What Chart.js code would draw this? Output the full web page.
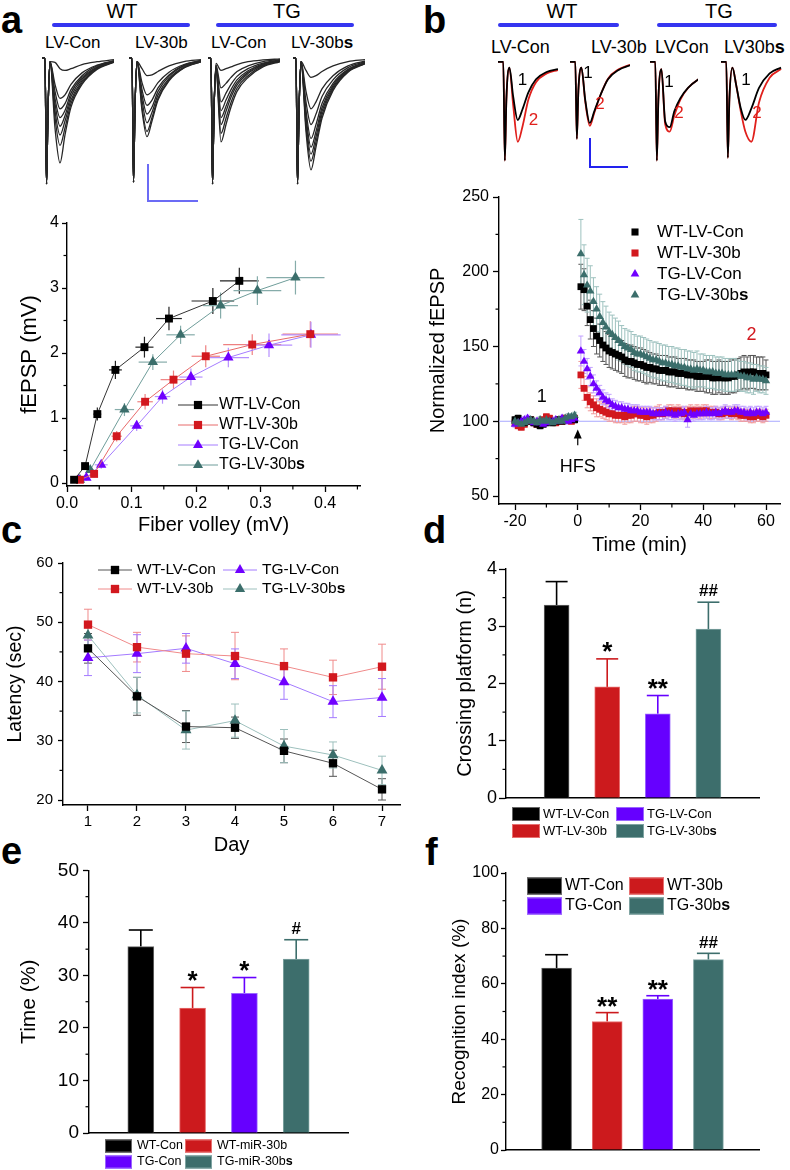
<!DOCTYPE html>
<html>
<head>
<meta charset="utf-8">
<script src="https://cdn.jsdelivr.net/npm/chart.js@4.4.1/dist/chart.umd.min.js"></script>
<style>
  html, body { margin: 0; padding: 0; background: #fff; }
  #fig { position: relative; width: 790px; height: 1170px; overflow: hidden;
         font-family: 'Liberation Sans', Arial, sans-serif; color: #000; }
  #fig canvas { position: absolute; }
  .t { position: absolute; white-space: nowrap; line-height: 1; }
  .lbl { font-weight: bold; font-size: 38px; }
  .hd { font-size: 20px; width: 100px; text-align: center; }
  .sa { font-size: 17px; }
  .sbt { font-size: 18px; }
  .num { font-size: 17px; width: 20px; text-align: center; }
  .blue { position: absolute; height: 4px; background: #3535f0; border-radius: 2px; }
  .sbar { position: absolute; }
</style>
</head>
<body>
<div id="fig">
  <!-- panel letters -->
  <div class="t lbl" style="left:1px;top:1px">a</div>
  <div class="t lbl" style="left:423px;top:1px">b</div>
  <div class="t lbl" style="left:1px;top:511px">c</div>
  <div class="t lbl" style="left:423px;top:511px">d</div>
  <div class="t lbl" style="left:1px;top:832px">e</div>
  <div class="t lbl" style="left:425px;top:833px">f</div>

  <!-- panel a headers -->
  <div class="t hd" style="left:72px;top:1px">WT</div>
  <div class="t hd" style="left:237px;top:1px">TG</div>
  <div class="blue" style="left:52px;top:23px;width:138px"></div>
  <div class="blue" style="left:216px;top:23px;width:138px"></div>
  <div class="t sa" style="left:45px;top:34px">LV-Con</div>
  <div class="t sa" style="left:135px;top:34px">LV-30b</div>
  <div class="t sa" style="left:211px;top:34px">LV-Con</div>
  <div class="t sa" style="left:291px;top:34px">LV-30b<b>s</b></div>
  <div class="sbar" style="left:147px;top:164px;width:1.5px;height:37px;background:#6b6bf5"></div>
  <div class="sbar" style="left:147px;top:200px;width:51px;height:1.5px;background:#6b6bf5"></div>

  <!-- panel b headers -->
  <div class="t hd" style="left:512px;top:1px">WT</div>
  <div class="t hd" style="left:669px;top:1px">TG</div>
  <div class="blue" style="left:498px;top:23px;width:121px"></div>
  <div class="blue" style="left:657px;top:23px;width:120px"></div>
  <div class="t sbt" style="left:491px;top:38px">LV-Con</div>
  <div class="t sbt" style="left:591px;top:38px">LV-30b</div>
  <div class="t sbt" style="left:655px;top:38px">LVCon</div>
  <div class="t sbt" style="left:724px;top:38px">LV30b<b>s</b></div>
  <div class="sbar" style="left:589px;top:138px;width:2px;height:30px;background:#2222ee"></div>
  <div class="sbar" style="left:589px;top:166px;width:39px;height:2px;background:#2222ee"></div>
</div>

<script>
// ================= DATA =================
const groupsLV  = ['WT-LV-Con', 'WT-LV-30b', 'TG-LV-Con', 'TG-LV-30bs'];
const groupsMiR = ['WT-Con', 'WT-miR-30b', 'TG-Con', 'TG-miR-30bs'];
const groupsNOR = ['WT-Con', 'WT-30b', 'TG-Con', 'TG-30bs'];

// panel a: fEPSP vs fiber volley (mV)
const fvWtCon    = [0.011, 0.028, 0.047, 0.075, 0.120, 0.158, 0.226, 0.267];
const epWtCon    = [0.05, 0.26, 1.06, 1.74, 2.09, 2.53, 2.80, 3.11];
const fvErrWtCon = [0.003, 0.004, 0.006, 0.010, 0.014, 0.020, 0.033, 0.030];
const epErrWtCon = [0.03, 0.05, 0.10, 0.14, 0.16, 0.18, 0.20, 0.20];

const fvWt30b    = [0.020, 0.042, 0.077, 0.121, 0.165, 0.215, 0.287, 0.377];
const epWt30b    = [0.05, 0.14, 0.72, 1.25, 1.59, 1.95, 2.13, 2.29];
const fvErrWt30b = [0.004, 0.005, 0.008, 0.012, 0.020, 0.022, 0.045, 0.043];
const epErrWt30b = [0.03, 0.05, 0.08, 0.12, 0.14, 0.17, 0.16, 0.20];

const fvTgCon    = [0.018, 0.030, 0.053, 0.108, 0.148, 0.192, 0.250, 0.313, 0.378];
const epTgCon    = [0.05, 0.08, 0.28, 0.88, 1.33, 1.63, 1.93, 2.12, 2.28];
const fvErrTgCon = [0.003, 0.004, 0.010, 0.010, 0.012, 0.018, 0.032, 0.036, 0.046];
const epErrTgCon = [0.03, 0.04, 0.06, 0.08, 0.11, 0.13, 0.15, 0.18, 0.20];

const fvTg30bs    = [0.020, 0.036, 0.089, 0.133, 0.176, 0.238, 0.295, 0.354];
const epTg30bs    = [0.05, 0.20, 1.13, 1.86, 2.28, 2.73, 2.96, 3.16];
const fvErrTg30bs = [0.004, 0.006, 0.015, 0.022, 0.022, 0.027, 0.037, 0.045];
const epErrTg30bs = [0.03, 0.05, 0.10, 0.12, 0.14, 0.20, 0.22, 0.26];

// panel a sample traces (ms, mV)
const traceTimeA = [0, 0.3, 0.45, 0.6, 0.8, 1.3, 1.8, 2.3, 2.9, 4.0, 5.5, 7.2];
const tracesWtCon = [
  [0, 0, -3.6, -1.5, -0.1, -0.12, -0.30, -0.35, -0.30, -0.18, -0.10, -0.04],
  [0, 0, -3.6, -1.5, -0.1, -0.75, -1.15, -1.05, -0.75, -0.42, -0.20, -0.07],
  [0, 0, -3.6, -1.5, -0.1, -0.95, -1.45, -1.30, -0.90, -0.50, -0.22, -0.08],
  [0, 0, -3.6, -1.5, -0.1, -1.15, -1.70, -1.50, -1.00, -0.55, -0.25, -0.09],
  [0, 0, -3.6, -1.5, -0.1, -1.30, -1.95, -1.65, -1.10, -0.60, -0.27, -0.10],
  [0, 0, -3.6, -1.5, -0.1, -1.50, -2.20, -1.80, -1.20, -0.65, -0.28, -0.10],
  [0, 0, -3.6, -1.5, -0.1, -1.70, -2.50, -2.00, -1.30, -0.70, -0.30, -0.11],
  [0, 0, -3.6, -1.5, -0.1, -2.00, -3.00, -2.20, -1.40, -0.75, -0.32, -0.12]
];
const tracesWt30b = [
  [0, 0, -3.55, -1.4, -0.1, -0.30, -0.50, -0.48, -0.38, -0.22, -0.10, -0.04],
  [0, 0, -3.55, -1.4, -0.1, -0.70, -1.05, -0.95, -0.70, -0.40, -0.18, -0.06],
  [0, 0, -3.55, -1.4, -0.1, -0.90, -1.35, -1.20, -0.85, -0.48, -0.20, -0.07],
  [0, 0, -3.55, -1.4, -0.1, -1.05, -1.60, -1.40, -0.95, -0.52, -0.22, -0.08],
  [0, 0, -3.55, -1.4, -0.1, -1.20, -1.85, -1.55, -1.05, -0.58, -0.25, -0.09],
  [0, 0, -3.55, -1.4, -0.1, -1.40, -2.10, -1.70, -1.15, -0.62, -0.27, -0.10],
  [0, 0, -3.55, -1.4, -0.1, -1.50, -2.25, -1.80, -1.20, -0.65, -0.28, -0.10]
];
const tracesTgCon = [
  [0, 0, -3.6, -1.5, -0.15, -0.35, -0.30, -0.25, -0.18, -0.10, -0.05, -0.02],
  [0, 0, -3.6, -1.5, -0.20, -0.85, -0.72, -0.55, -0.38, -0.22, -0.10, -0.04],
  [0, 0, -3.6, -1.5, -0.20, -1.25, -1.00, -0.75, -0.52, -0.30, -0.14, -0.05],
  [0, 0, -3.6, -1.5, -0.25, -1.50, -1.20, -0.90, -0.62, -0.36, -0.16, -0.06],
  [0, 0, -3.6, -1.5, -0.25, -1.70, -1.38, -1.02, -0.70, -0.40, -0.18, -0.07],
  [0, 0, -3.6, -1.5, -0.30, -1.90, -1.52, -1.12, -0.77, -0.44, -0.20, -0.08],
  [0, 0, -3.6, -1.5, -0.30, -2.15, -1.72, -1.27, -0.86, -0.50, -0.22, -0.09],
  [0, 0, -3.6, -1.5, -0.30, -2.40, -1.90, -1.40, -0.95, -0.55, -0.25, -0.10]
];
const tracesTg30bs = [
  [0, 0, -3.6, -1.5, -0.1, -0.35, -0.55, -0.50, -0.38, -0.22, -0.10, -0.04],
  [0, 0, -3.6, -1.5, -0.1, -0.95, -1.45, -1.25, -0.88, -0.50, -0.22, -0.08],
  [0, 0, -3.6, -1.5, -0.1, -1.25, -1.90, -1.60, -1.10, -0.62, -0.27, -0.10],
  [0, 0, -3.6, -1.5, -0.1, -1.50, -2.30, -1.90, -1.30, -0.72, -0.32, -0.12],
  [0, 0, -3.6, -1.5, -0.1, -1.65, -2.55, -2.10, -1.42, -0.78, -0.34, -0.13],
  [0, 0, -3.6, -1.5, -0.1, -1.80, -2.75, -2.25, -1.52, -0.83, -0.36, -0.14],
  [0, 0, -3.6, -1.5, -0.1, -1.95, -2.95, -2.40, -1.62, -0.88, -0.38, -0.15],
  [0, 0, -3.6, -1.5, -0.1, -2.10, -3.20, -2.55, -1.72, -0.93, -0.40, -0.16]
];

// panel b sample traces: [before HFS (1), after HFS (2)]
const traceTimeB = [0, 0.7, 0.9, 1.1, 1.5, 2.0, 2.6, 3.2, 4.0, 5.0, 6.4, 7.9];
const ltpTraceWtCon = [
  [0, 0, -3.4, -1.3, -0.2, -1.20, -2.00, -1.65, -1.05, -0.60, -0.35, -0.25],
  [0, 0, -3.4, -1.3, -0.2, -1.50, -2.75, -2.25, -1.30, -0.70, -0.40, -0.28]
];
const ltpTraceWt30b = [
  [0, 0, -2.65, -1.0, -0.2, -1.30, -2.10, -1.70, -1.15, -0.60, -0.28, -0.12],
  [0, 0, -2.65, -1.0, -0.2, -1.35, -2.20, -1.75, -1.15, -0.58, -0.26, -0.10]
];
const ltpTraceTgCon = [
  [0, 0, -3.4, -1.3, -0.25, -2.05, -2.25, -1.70, -1.25, -0.90, -0.60, -0.40],
  [0, 0, -3.4, -1.3, -0.25, -2.15, -2.40, -1.85, -1.30, -0.90, -0.60, -0.40]
];
const ltpTraceTg30bs = [
  [0, 0, -3.3, -1.3, -0.2, -0.80, -1.60, -2.00, -1.60, -0.90, -0.40, -0.20],
  [0, 0, -3.3, -1.3, -0.2, -0.80, -1.70, -2.40, -2.75, -1.40, -0.55, -0.25]
];

// panel b: normalized fEPSP over time
const ltpMinutes = [-20,-19,-18,-17,-16,-15,-14,-13,-12,-11,-10,-9,-8,-7,-6,-5,-4,-3,-2,-1,
  1,2,3,4,5,6,7,8,9,10,11,12,13,14,15,16,17,18,19,20,21,22,23,24,25,26,27,28,29,30,
  31,32,33,34,35,36,37,38,39,40,41,42,43,44,45,46,47,48,49,50,51,52,53,54,55,56,57,58,59,60];
const ltpWtCon = [101,102,100,99,100,101,99,98,97,98,99,100,99,100,101,100,101,101,102,101,
  190,188,177,168,162,157,154,151,149,147,146,145,144,143,141,140,140,139,138,138,
  137,136,136,135,135,134,134,134,133,133,133,132,132,132,131,131,131,130,130,130,
  130,130,129,129,130,129,129,129,130,130,131,132,133,132,133,133,132,132,132,131];
const ltpWt30b = [99,97,96,98,100,101,99,98,100,101,103,102,100,99,101,100,102,101,100,102,
  131,122,116,113,111,109,108,107,106,105,105,104,104,104,103,104,104,105,105,104,
  104,103,104,104,105,106,105,106,107,107,106,107,106,105,106,107,106,107,106,107,
  107,106,106,106,105,105,106,106,105,106,105,104,104,104,103,103,104,104,103,104];
const ltpTgCon = [98,99,100,101,102,100,99,100,99,98,99,100,100,101,100,102,101,100,101,102,
  147,140,135,130,125,122,119,116,114,113,111,110,109,109,108,108,107,107,107,106,
  106,106,106,105,105,105,105,106,105,105,104,105,105,106,101,105,104,105,105,105,
  106,105,105,106,105,106,107,106,106,107,107,106,106,105,106,105,106,106,105,106];
const ltpTg30bs = [100,99,98,99,100,101,100,99,101,100,101,100,99,100,101,100,102,103,103,104,
  212,198,191,187,180,175,170,166,163,160,158,156,154,152,150,149,148,146,145,145,
  144,143,142,141,141,140,139,139,138,138,137,137,136,136,135,135,134,135,134,134,
  133,133,133,132,132,132,131,131,131,131,131,130,130,129,129,128,129,128,128,127];
const ltpErrWtCon = [2,2,2,2,2,2,2,2,2,2,2,2,2,2,2,2,2,2,2,2,
  15,14,13,13,12,12,11,11,11,11,11,11,11,11,11,11,11,11,11,11,
  11,11,10,10,10,10,10,10,10,10,10,10,10,10,10,10,10,10,10,10,
  11,11,11,11,11,11,11,11,11,11,11,11,11,11,11,11,11,11,11,10];
const ltpErrWt30b = [2,2,2,2,2,2,2,2,2,2,2,2,2,2,2,2,2,2,2,2,
  9,8,7,6,6,6,5,5,5,5,5,5,5,5,5,5,5,5,5,5,
  5,5,5,5,5,5,4,4,4,4,4,4,4,4,4,4,4,4,4,4,
  4,4,4,4,4,4,4,4,4,4,4,4,4,4,4,4,4,4,4,4];
const ltpErrTgCon = [2,2,2,2,2,2,2,2,2,2,2,2,2,2,2,2,2,2,2,2,
  10,8,7,6,6,5,5,5,5,5,4,4,4,4,4,4,4,4,4,4,
  4,4,4,4,4,4,4,4,4,4,4,4,4,4,5,4,4,4,4,4,
  4,4,4,4,4,4,4,4,4,4,4,4,4,4,4,4,4,4,4,4];
const ltpErrTg30bs = [2,2,2,2,2,2,2,2,2,2,2,2,2,2,2,2,2,2,2,2,
  23,20,18,17,16,15,15,14,14,13,13,13,13,12,12,12,12,12,12,12,
  12,12,12,12,12,12,12,12,12,12,12,12,12,12,12,12,12,12,11,11,
  11,11,11,11,11,11,11,11,11,11,10,10,10,10,10,10,9,9,9,9];

// panel c: escape latency (sec) by day
const days = [1, 2, 3, 4, 5, 6, 7];
const latWtCon  = [45.6, 37.5, 32.4, 32.2, 28.3, 26.2, 21.8];
const latWt30b  = [49.6, 45.8, 44.7, 44.3, 42.6, 40.7, 42.5];
const latTgCon  = [44.0, 44.7, 45.6, 43.0, 39.9, 36.6, 37.3];
const latTg30bs = [47.8, 37.7, 31.8, 33.4, 29.1, 27.6, 25.0];
const latErrWtCon  = [2.5, 3.2, 2.7, 1.8, 2.0, 2.2, 1.8];
const latErrWt30b  = [2.6, 2.5, 3.0, 4.0, 2.9, 2.9, 3.8];
const latErrTgCon  = [3.0, 3.2, 2.5, 2.5, 2.9, 2.7, 3.2];
const latErrTg30bs = [2.0, 3.0, 3.2, 2.8, 2.8, 2.2, 2.4];

// panel d: platform crossings
const crossing    = [3.37, 1.94, 1.47, 2.95];
const crossingErr = [0.41, 0.49, 0.32, 0.47];
const crossingSig = ['', '*', '**', '##'];

// panel e: time in target quadrant (%)
const quadrantTime    = [35.5, 23.8, 26.6, 33.1];
const quadrantTimeErr = [3.15, 3.9, 3.0, 3.7];
const quadrantTimeSig = ['', '*', '*', '#'];

// panel f: recognition index (%)
const recognition    = [65.7, 46.4, 54.5, 68.7];
const recognitionErr = [4.8, 3.2, 1.2, 2.3];
const recognitionSig = ['', '**', '**', '##'];

// ================= STYLE / HELPERS =================
const FONT = "'Liberation Sans', Arial, sans-serif";
Chart.defaults.font.family = FONT;
Chart.defaults.color = '#000';

const COL   = ['#000000', '#d2181e', '#7000ff', '#3b6e6b'];
const BAR   = ['#000000', '#cc1a1d', '#6600ff', '#3d6e6c'];
const EDGE  = ['#666666', '#e87070', '#9a66ff', '#7fa4a2'];
const LINEA = ['#333333', '#e76a6a', '#a57cff', '#6f9d9a'];
const ERRA  = ['#222222', '#ee8080', '#b690ff', '#86acaa'];
const ERRB  = ['#555555', '#f29a9a', '#c2a2ff', '#9ec2bf'];
const LINEC = ['#555555', '#f08a8a', '#a37aff', '#9dc0bd'];
const SHAPE = ['rect', 'rect', 'triangle', 'triangle'];

const fig = document.getElementById('fig');
function canvasAt(left, top, w, h) {
  const c = document.createElement('canvas');
  c.width = w; c.height = h;
  c.style.left = left + 'px'; c.style.top = top + 'px';
  c.style.width = w + 'px'; c.style.height = h + 'px';
  fig.appendChild(c);
  return c;
}
function note(text, left, top, cls, color) {
  const d = document.createElement('div');
  d.className = 't ' + cls;
  d.style.left = left + 'px'; d.style.top = top + 'px';
  if (color) d.style.color = color;
  d.textContent = text;
  fig.appendChild(d);
}

function drawMarker(ctx, style, x, y, r, color) {
  ctx.fillStyle = color;
  ctx.beginPath();
  if (style === 'triangle') {
    const a = 2 * Math.PI / 3;
    ctx.moveTo(x, y - r);
    ctx.lineTo(x + r * Math.sin(a), y - r * Math.cos(a));
    ctx.lineTo(x + r * Math.sin(2 * a), y - r * Math.cos(2 * a));
  } else {
    const s = r * Math.SQRT1_2;
    ctx.rect(x - s, y - s, 2 * s, 2 * s);
  }
  ctx.closePath();
  ctx.fill();
}

// the trailing "s" of the rescue groups is set in bold
function fillLabel(ctx, text, x, y, size) {
  const bold = /bs$/.test(text);
  const main = bold ? text.slice(0, -1) : text;
  ctx.font = size + 'px ' + FONT;
  ctx.fillText(main, x, y);
  if (bold) {
    const w = ctx.measureText(main).width;
    ctx.font = 'bold ' + size + 'px ' + FONT;
    ctx.fillText('s', x + w, y);
  }
}

function axisY(o) {
  return {
    type: 'linear', position: 'left', min: o.min, max: o.max, bounds: 'data',
    afterFit: s => { s.width = o.width; },
    afterBuildTicks: s => { s.ticks = o.ticks.map(v => ({ value: v })); },
    border: { display: true, color: '#000', width: 1.4 },
    grid: { drawOnChartArea: false, drawTicks: true, tickLength: o.tickLen || 6, tickColor: '#000', tickWidth: 1.3 },
    ticks: { color: '#000', padding: o.pad == null ? 3 : o.pad, autoSkip: false,
             font: { family: FONT, size: o.size }, callback: o.fmt || (v => String(v)) },
    title: { display: !!o.title, text: o.title || '', color: '#000',
             font: { family: FONT, size: o.titleSize || 20 }, padding: { top: o.titlePad || 0, bottom: 0 } }
  };
}
function axisX(o) {
  const hasTicks = !!o.ticks;
  return {
    type: 'linear', position: 'bottom', min: o.min, max: o.max, bounds: 'data', offset: false,
    afterFit: s => { s.height = o.height; },
    afterBuildTicks: s => { s.ticks = (o.ticks || []).map(v => ({ value: v })); },
    border: { display: true, color: '#000', width: 1.4 },
    grid: { drawOnChartArea: false, offset: false, drawTicks: hasTicks, tickLength: 6, tickColor: '#000', tickWidth: 1.3 },
    ticks: { display: hasTicks, color: '#000', padding: 2, autoSkip: false, maxRotation: 0,
             font: { family: FONT, size: o.size || 16 }, callback: o.fmt || (v => String(v)) },
    title: { display: !!o.title, text: o.title || '', color: '#000',
             font: { family: FONT, size: o.titleSize || 20 }, padding: { top: 0, bottom: o.titlePad || 0 } }
  };
}

function minorTicks(cfg) {
  return {
    id: 'minorTicks',
    afterDraw(chart) {
      const ctx = chart.ctx;
      ctx.save();
      ctx.strokeStyle = '#000'; ctx.lineWidth = 1.2;
      Object.keys(cfg).forEach(id => {
        const s = chart.scales[id];
        cfg[id].forEach(v => {
          const p = s.getPixelForValue(v);
          ctx.beginPath();
          if (s.isHorizontal()) { ctx.moveTo(p, s.top); ctx.lineTo(p, s.top + 3.5); }
          else { ctx.moveTo(s.right, p); ctx.lineTo(s.right - 3.5, p); }
          ctx.stroke();
        });
      });
      ctx.restore();
    }
  };
}

const errorBars = {
  id: 'errorBars',
  beforeDatasetsDraw(chart) {
    const { ctx, scales: { x, y } } = chart;
    const seg = (x1, y1, x2, y2) => { ctx.beginPath(); ctx.moveTo(x1, y1); ctx.lineTo(x2, y2); ctx.stroke(); };
    chart.data.datasets.forEach(ds => {
      if (!ds.errY && !ds.errX) return;
      ctx.save();
      ctx.lineWidth = ds.errWidth || 1;
      const cap = ds.errCap || 0;
      ds.data.forEach((p, i) => {
        ctx.strokeStyle = Array.isArray(ds.errColor) ? ds.errColor[i] : ds.errColor;
        const px = x.getPixelForValue(p.x), py = y.getPixelForValue(p.y);
        if (ds.errY) {
          const top = y.getPixelForValue(p.y + ds.errY[i]);
          const bot = ds.errUpOnly ? py : y.getPixelForValue(p.y - ds.errY[i]);
          seg(px, top, px, bot);
          if (cap) { seg(px - cap, top, px + cap, top); if (!ds.errUpOnly) seg(px - cap, bot, px + cap, bot); }
        }
        if (ds.errX) {
          const l = x.getPixelForValue(p.x - ds.errX[i]), r = x.getPixelForValue(p.x + ds.errX[i]);
          seg(l, py, r, py);
        }
      });
      ctx.restore();
    });
  }
};

function legendPlugin(cfg) {
  return {
    id: 'figLegend',
    afterDraw(chart) {
      const ctx = chart.ctx;
      const ox = parseFloat(chart.canvas.style.left), oy = parseFloat(chart.canvas.style.top);
      ctx.save();
      ctx.textBaseline = 'middle';
      ctx.textAlign = 'left';
      cfg.items.forEach((it, k) => {
        const col = k % cfg.cols, row = Math.floor(k / cfg.cols);
        const X = cfg.x + col * (cfg.dx || 0) - ox, Y = cfg.y + row * cfg.dy - oy;
        let tx;
        if (cfg.mode === 'swatch') {
          ctx.fillStyle = it.color;
          ctx.fillRect(X, Y - cfg.h / 2, cfg.w, cfg.h);
          ctx.strokeStyle = it.edge; ctx.lineWidth = 1;
          ctx.strokeRect(X + 0.5, Y - cfg.h / 2 + 0.5, cfg.w - 1, cfg.h - 1);
          tx = X + cfg.w + cfg.gap;
        } else if (cfg.mode === 'line') {
          ctx.strokeStyle = it.line; ctx.lineWidth = 1;
          ctx.beginPath(); ctx.moveTo(X, Y); ctx.lineTo(X + cfg.len, Y); ctx.stroke();
          drawMarker(ctx, it.point, X + cfg.len / 2, Y, cfg.r, it.color);
          tx = X + cfg.len + cfg.gap;
        } else {
          drawMarker(ctx, it.point, X, Y, cfg.r, it.color);
          tx = X + cfg.gap;
        }
        ctx.fillStyle = '#000';
        fillLabel(ctx, it.label, tx, Y, cfg.size);
      });
      ctx.restore();
    }
  };
}

function marksPlugin(marks, gap) {
  return {
    id: 'sigMarks',
    afterDatasetsDraw(chart) {
      const ds = chart.data.datasets[0], meta = chart.getDatasetMeta(0), y = chart.scales.y, ctx = chart.ctx;
      ctx.save();
      ctx.fillStyle = '#000'; ctx.textAlign = 'center'; ctx.textBaseline = 'alphabetic';
      marks.forEach((m, i) => {
        if (!m) return;
        ctx.font = 'bold ' + (m.includes('*') ? 26 : 17) + 'px ' + FONT;
        const met = ctx.measureText(m);
        const cy = y.getPixelForValue(ds.data[i].y + ds.errY[i]) - gap;
        ctx.fillText(m, meta.data[i].x, cy + (met.actualBoundingBoxAscent - met.actualBoundingBoxDescent) / 2);
      });
      ctx.restore();
    }
  };
}

function baseOptions(padTop, padRight, scales) {
  return {
    responsive: false, animation: false, events: [],
    layout: { padding: { top: padTop, right: padRight, left: 0, bottom: 0 } },
    scales,
    plugins: { legend: { display: false }, tooltip: { enabled: false } }
  };
}

function traceChart(left, top, w, h, pxPerMs, yMin, yMax, times, traces, colors, width) {
  new Chart(canvasAt(left, top, w, h), {
    type: 'line',
    data: { datasets: traces.map((v, k) => ({
      data: times.map((t, i) => ({ x: t, y: v[i] })),
      borderColor: colors[k % colors.length], borderWidth: width, pointRadius: 0,
      cubicInterpolationMode: 'monotone', fill: false
    })) },
    options: {
      responsive: false, animation: false, events: [], layout: { padding: 0 },
      scales: { x: { type: 'linear', display: false, min: 0, max: w / pxPerMs },
                y: { type: 'linear', display: false, min: yMin, max: yMax } },
      plugins: { legend: { display: false }, tooltip: { enabled: false } }
    }
  });
}

const pts = (xs, ys) => xs.map((v, i) => ({ x: v, y: ys[i] }));

// ================= PANEL a: traces =================
const greyTrace = ['#262626'];
traceChart(42, 53, 72, 135, 10, -3.72, 0.15, traceTimeA, tracesWtCon, greyTrace, 1.3);
traceChart(129, 53, 72, 135, 10, -3.72, 0.15, traceTimeA, tracesWt30b, greyTrace, 1.3);
traceChart(208, 53, 72, 135, 10, -3.72, 0.15, traceTimeA, tracesTgCon, greyTrace, 1.3);
traceChart(293, 53, 72, 135, 10, -3.72, 0.15, traceTimeA, tracesTg30bs, greyTrace, 1.3);

// ================= PANEL a: input-output =================
(function () {
  const xs = [fvWtCon, fvWt30b, fvTgCon, fvTg30bs];
  const ys = [epWtCon, epWt30b, epTgCon, epTg30bs];
  const ex = [fvErrWtCon, fvErrWt30b, fvErrTgCon, fvErrTg30bs];
  const ey = [epErrWtCon, epErrWt30b, epErrTgCon, epErrTg30bs];
  const datasets = groupsLV.map((g, k) => ({
    label: g, data: pts(xs[k], ys[k]), showLine: true,
    borderColor: LINEA[k], borderWidth: 1, tension: 0,
    pointStyle: SHAPE[k], pointRadius: SHAPE[k] === 'rect' ? 5.6 : 6,
    pointBackgroundColor: COL[k], pointBorderColor: COL[k], pointBorderWidth: 0,
    errX: ex[k], errY: ey[k], errColor: ERRA[k], errWidth: 1.2
  }));
  new Chart(canvasAt(0, 200, 390, 340), {
    type: 'scatter',
    data: { datasets },
    options: baseOptions(23, 30, {
      x: axisX({ min: 0, max: 0.454, height: 54, ticks: [0, 0.1, 0.2, 0.3, 0.4], size: 16,
                 fmt: v => v.toFixed(1), title: 'Fiber volley (mV)', titleSize: 20, titlePad: 3 }),
      y: axisY({ min: -0.046, max: 4, width: 67, ticks: [0, 1, 2, 3, 4], size: 16, tickLen: 5,
                 title: 'fEPSP (mV)', titleSize: 22, titlePad: 17 })
    }),
    plugins: [errorBars, minorTicks({ x: [0.05, 0.15, 0.25, 0.35, 0.45], y: [0.5, 1.5, 2.5, 3.5] }),
      legendPlugin({ mode: 'line', x: 178, y: 405, dy: 20, cols: 1, len: 40, gap: 1, r: 5.8, size: 16,
        items: groupsLV.map((g, k) => ({ label: g, color: COL[k], line: LINEA[k], point: SHAPE[k] })) })]
  });
})();

// ================= PANEL b: traces =================
const ltpColors = ['#000000', '#e0201c'];
traceChart(498, 56, 60, 109, 7.6, -3.55, 0.2, traceTimeB, ltpTraceWtCon, ltpColors, 1.8);
traceChart(570, 56, 60, 109, 7.6, -3.55, 0.2, traceTimeB, ltpTraceWt30b, ltpColors, 1.8);
traceChart(650, 56, 48, 109, 7.6, -3.55, 0.2, traceTimeB, ltpTraceTgCon, ltpColors, 1.8);
traceChart(721, 56, 63, 109, 7.6, -3.55, 0.2, traceTimeB, ltpTraceTg30bs, ltpColors, 1.8);
[[512.5, 70.7], [578, 63.7], [659, 72.7], [736, 70.7]].forEach(p => note('1', p[0], p[1], 'num'));
[[523.5, 111.2], [590, 94.7], [669, 103.7], [747, 103.7]].forEach(p => note('2', p[0], p[1], 'num', '#e0201c'));

// ================= PANEL b: LTP time course =================
(function () {
  const ys = [ltpWtCon, ltpWt30b, ltpTgCon, ltpTg30bs];
  const es = [ltpErrWtCon, ltpErrWt30b, ltpErrTgCon, ltpErrTg30bs];
  const drawOrder = [2, 3, 1, 0];
  const datasets = groupsLV.map((g, k) => ({
    label: g, data: pts(ltpMinutes, ys[k]), showLine: false, order: drawOrder[k],
    pointStyle: SHAPE[k], pointRadius: 4.8,
    pointBackgroundColor: COL[k], pointBorderColor: COL[k], pointBorderWidth: 0,
    errY: es[k], errColor: ERRB[k], errWidth: 1, errCap: 2.5
  }));
  const notes = {
    id: 'ltpNotes',
    beforeDatasetsDraw(chart) {
      const { ctx, scales: { y }, chartArea } = chart;
      ctx.save();
      ctx.strokeStyle = '#a8a8ff'; ctx.lineWidth = 1;
      const py = y.getPixelForValue(100);
      ctx.beginPath(); ctx.moveTo(chartArea.left, py); ctx.lineTo(chartArea.right, py); ctx.stroke();
      ctx.restore();
    },
    afterDatasetsDraw(chart) {
      const { ctx, scales: { x, y } } = chart;
      ctx.save();
      const ax = x.getPixelForValue(0), tip = y.getPixelForValue(94.5), tail = y.getPixelForValue(84);
      ctx.strokeStyle = '#000'; ctx.fillStyle = '#000'; ctx.lineWidth = 1.2;
      ctx.beginPath(); ctx.moveTo(ax, tail); ctx.lineTo(ax, tip + 6); ctx.stroke();
      ctx.beginPath(); ctx.moveTo(ax, tip); ctx.lineTo(ax - 4, tip + 9); ctx.lineTo(ax + 4, tip + 9); ctx.closePath(); ctx.fill();
      ctx.textAlign = 'center'; ctx.textBaseline = 'middle';
      ctx.font = '18px ' + FONT;
      ctx.fillText('HFS', ax, y.getPixelForValue(69.5));
      ctx.fillText('1', x.getPixelForValue(-11.5), y.getPixelForValue(116));
      ctx.fillStyle = '#d2181e';
      ctx.fillText('2', x.getPixelForValue(55.4), y.getPixelForValue(157.5));
      ctx.restore();
    }
  };
  new Chart(canvasAt(400, 180, 390, 380), {
    type: 'scatter',
    data: { datasets },
    options: baseOptions(17, 10, {
      x: axisX({ min: -25.1, max: 64.46, height: 56, ticks: [-20, 0, 20, 40, 60], size: 16,
                 title: 'Time (min)', titleSize: 20, titlePad: 3 }),
      y: axisY({ min: 44.65, max: 250, width: 99, ticks: [50, 100, 150, 200, 250], size: 16, pad: 4,
                 title: 'Normalized fEPSP', titleSize: 20, titlePad: 26 })
    }),
    plugins: [notes, errorBars, minorTicks({ x: [-10, 10, 30, 50], y: [75, 125, 175, 225] }),
      legendPlugin({ mode: 'marker', x: 635, y: 232, dy: 21, cols: 1, gap: 22, r: 5, size: 17,
        items: groupsLV.map((g, k) => ({ label: g, color: COL[k], point: SHAPE[k] })) })]
  });
})();

// ================= PANEL c: latency =================
(function () {
  const ys = [latWtCon, latWt30b, latTgCon, latTg30bs];
  const es = [latErrWtCon, latErrWt30b, latErrTgCon, latErrTg30bs];
  const datasets = groupsLV.map((g, k) => ({
    label: g, data: pts(days, ys[k]),
    borderColor: LINEC[k], borderWidth: 1, tension: 0,
    pointStyle: SHAPE[k], pointRadius: SHAPE[k] === 'rect' ? 5.9 : 6.3,
    pointBackgroundColor: COL[k], pointBorderColor: COL[k], pointBorderWidth: 0,
    errY: es[k], errColor: LINEC[k], errWidth: 1, errCap: 4
  }));
  const legendOrder = [0, 2, 1, 3];
  new Chart(canvasAt(0, 545, 410, 315), {
    type: 'line',
    data: { datasets },
    options: baseOptions(18, 10, {
      x: axisX({ min: 0.49, max: 7.367, height: 55, ticks: days, size: 15,
                 title: 'Day', titleSize: 20, titlePad: 3 }),
      y: axisY({ min: 19.16, max: 60, width: 63, ticks: [20, 30, 40, 50, 60], size: 15, pad: 5, tickLen: 5,
                 title: 'Latency (sec)', titleSize: 19.5, titlePad: 4 })
    }),
    plugins: [errorBars, minorTicks({ y: [25, 35, 45, 55] }),
      legendPlugin({ mode: 'line', x: 98, y: 570, dx: 125, dy: 19, cols: 2, len: 34, gap: 5, r: 5.9, size: 15.5,
        items: legendOrder.map(k => ({ label: groupsLV[k], color: COL[k], line: LINEC[k], point: SHAPE[k] })) })]
  });
})();

// ================= PANELS d, e, f: bar charts =================
function barPanel(o) {
  const order = o.legendOrder || [0, 1, 2, 3];
  new Chart(canvasAt(o.left, o.top, o.w, o.h), {
    type: 'bar',
    data: { datasets: [{
      data: o.values.map((v, i) => ({ x: i + 1, y: v })),
      backgroundColor: BAR, borderColor: EDGE, borderWidth: 1, barThickness: o.barW,
      errY: o.errors, errUpOnly: true, errColor: BAR, errWidth: 1.6, errCap: o.cap
    }] },
    options: baseOptions(o.padTop, o.padRight, {
      x: axisX({ min: 0, max: 5, height: o.xh }),
      y: axisY(o.y)
    }),
    plugins: [errorBars, marksPlugin(o.marks, o.gap), minorTicks({ y: o.minor }),
      legendPlugin(Object.assign({ mode: 'swatch', cols: 2,
        items: order.map(k => ({ label: o.groups[k], color: BAR[k], edge: EDGE[k] })) }, o.legend))]
  });
}

barPanel({
  left: 400, top: 555, w: 380, h: 290, padTop: 14, padRight: 21, xh: 47, barW: 25, cap: 11, gap: 12,
  values: crossing, errors: crossingErr, marks: crossingSig, minor: [0.5, 1.5, 2.5, 3.5],
  groups: groupsLV, legendOrder: [0, 2, 1, 3],
  y: { min: 0, max: 4, width: 106, ticks: [0, 1, 2, 3, 4], size: 18, pad: 2, tickLen: 7,
       title: 'Crossing platform (n)', titleSize: 20, titlePad: 53 },
  legend: { x: 512, y: 814, dx: 104, dy: 17, w: 28, h: 14, gap: 3, size: 13 }
});

barPanel({
  left: 0, top: 855, w: 390, h: 315, padTop: 13, padRight: 42, xh: 37, barW: 26, cap: 12, gap: 12,
  values: quadrantTime, errors: quadrantTimeErr, marks: quadrantTimeSig, minor: [5, 15, 25, 35, 45],
  groups: groupsMiR,
  y: { min: 0, max: 50, width: 89, ticks: [0, 10, 20, 30, 40, 50], size: 19, pad: 4,
       title: 'Time (%)', titleSize: 21, titlePad: 17 },
  legend: { x: 105, y: 1146, dx: 80, dy: 16, w: 27, h: 13, gap: 5, size: 12.5 }
});

barPanel({
  left: 400, top: 860, w: 380, h: 310, padTop: 13, padRight: 21, xh: 20, barW: 30, cap: 11.5, gap: 11,
  values: recognition, errors: recognitionErr, marks: recognitionSig, minor: [10, 30, 50, 70, 90],
  groups: groupsNOR,
  y: { min: 0, max: 100, width: 106, ticks: [0, 20, 40, 60, 80, 100], size: 16, pad: 2, tickLen: 5,
       title: 'Recognition index (%)', titleSize: 19, titlePad: 48 },
  legend: { x: 527, y: 886, dx: 102, dy: 20, w: 35, h: 17, gap: 3, size: 16 }
});
</script>
</body>
</html>
